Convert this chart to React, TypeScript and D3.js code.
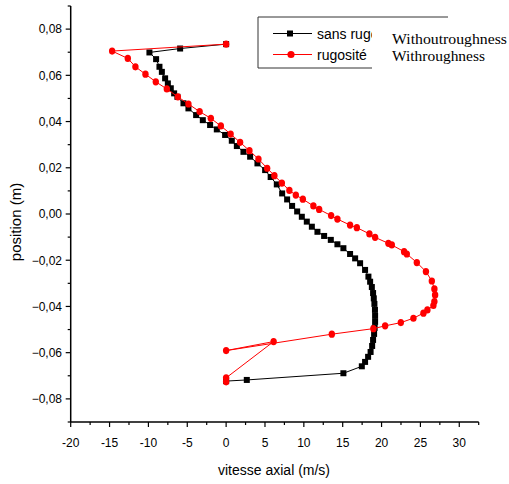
import React from "react";
import * as d3 from "d3";

const blackV = [0, 2.66, 15.09, 17.46, 17.88, 18.27, 18.59, 18.79, 18.91, 19.04, 19.11, 19.17, 19.17, 19.15, 19.08, 19.0, 18.91, 18.75, 18.53, 18.31, 17.88, 17.24, 16.6, 15.95, 15.09, 14.32, 13.47, 12.61, 11.75, 11.03, 10.38, 9.74, 9.14, 8.49, 7.85, 7.21, 6.52, 5.73, 5.02, 4.03, 3.09, 2.23, 1.38, 0.73, -0.13, -1.2, -2.06, -3.0, -3.86, -4.85, -5.49, -6.27, -6.69, -7.12, -7.5, -7.85, -8.27, -8.58, -9.01, -9.87, -5.92, 0];
const blackP = [-0.0723, -0.0718, -0.0689, -0.0659, -0.064, -0.0618, -0.0597, -0.0571, -0.0545, -0.0519, -0.0493, -0.0467, -0.0441, -0.0415, -0.0389, -0.0365, -0.0342, -0.0316, -0.0293, -0.0271, -0.0242, -0.0213, -0.0192, -0.0173, -0.0148, -0.0131, -0.0112, -0.0095, -0.0077, -0.0055, -0.0033, -0.0012, 0.0011, 0.0035, 0.0063, 0.0089, 0.0128, 0.016, 0.019, 0.0219, 0.0248, 0.0269, 0.0294, 0.0317, 0.0342, 0.0366, 0.0385, 0.0406, 0.0428, 0.0457, 0.0479, 0.0507, 0.0522, 0.0544, 0.0565, 0.0587, 0.0615, 0.0637, 0.067, 0.0699, 0.0716, 0.0735];

const redV = [0, 0, 6.11, 0, 13.6, 18.95, 20.46, 22.48, 24.1, 25.39, 25.9, 26.67, 26.8, 26.89, 26.8, 26.47, 25.71, 24.54, 23.25, 22.9, 21.32, 20.88, 19.17, 18.44, 16.82, 15.95, 14.32, 13.51, 11.97, 11.23, 9.87, 8.97, 8.14, 7.17, 6.21, 5.28, 4.16, 3.0, 1.8, 0.58, -0.68, -1.97, -3.41, -4.85, -6.21, -7.63, -9.05, -10.38, -11.67, -12.65, -14.67, 0];
const redP = [-0.0726, -0.0709, -0.0552, -0.0591, -0.052, -0.0496, -0.0484, -0.047, -0.0451, -0.0429, -0.0415, -0.0396, -0.0379, -0.035, -0.0324, -0.029, -0.0249, -0.021, -0.0173, -0.0163, -0.0134, -0.0127, -0.0101, -0.0086, -0.0059, -0.0048, -0.0022, -0.0007, 0.002, 0.0035, 0.0064, 0.0082, 0.0102, 0.0134, 0.0166, 0.0198, 0.0238, 0.0274, 0.031, 0.0346, 0.0381, 0.0414, 0.0443, 0.0476, 0.0507, 0.0541, 0.0572, 0.0605, 0.0637, 0.0673, 0.0705, 0.0735];

const xMajor = [-20, -15, -10, -5, 0, 5, 10, 15, 20, 25, 30];
const xMinor = [-17.5, -12.5, -7.5, -2.5, 2.5, 7.5, 12.5, 17.5, 22.5, 27.5, 32.5];
const yMajor = [-0.08, -0.06, -0.04, -0.02, 0, 0.02, 0.04, 0.06, 0.08];
const yMinor = [-0.09, -0.07, -0.05, -0.03, -0.01, 0.01, 0.03, 0.05, 0.07, 0.09];

const legendLabels = ["sans rugosité", "rugosité"];
const noteLabels = ["Withoutroughness", "Withroughness"];
const xTitle = "vitesse axial (m/s)";
const yTitle = "position (m)";

export default function App() {
  const x = d3.scaleLinear().domain([-20, 32.5]).range([70.7, 478.7]);
  const y = d3.scaleLinear().domain([-0.09, 0.09]).range([422, 6]);
  const black = blackV.map((v, i) => [v, blackP[i]] as [number, number]);
  const red = redV.map((v, i) => [v, redP[i]] as [number, number]);
  const line = d3.line<[number, number]>().x((d) => x(d[0])).y((d) => y(d[1]));
  const fmtY = (v: number) => (Math.abs(v) < 1e-9 ? "0,00" : d3.format(".2f")(v).replace(".", ","));
  const sans = "'Liberation Sans', Arial, sans-serif";
  const x0 = x(-20);
  const y0 = y(-0.09);

  return (
    <svg width={509} height={484} style={{ position: "absolute", left: 0, top: 0, background: "#fff" }}>
      <defs>
        <clipPath id="legclip">
          <rect x={250} y={10} width={122} height={70} />
        </clipPath>
        <clipPath id="noteclip">
          <rect x={372} y={19} width={137} height={45} />
        </clipPath>
      </defs>
      {/* series */}
      <path d={line(black) || ""} fill="none" stroke="#000" strokeWidth={1} />
      {black.map((d, i) => (
        <rect key={"b" + i} x={x(d[0]) - 3} y={y(d[1]) - 3} width={6} height={6} fill="#000" />
      ))}
      <path d={line(red) || ""} fill="none" stroke="#ff0000" strokeWidth={1} />
      {red.map((d, i) => (
        <ellipse key={"r" + i} cx={x(d[0])} cy={y(d[1])} rx={3.2} ry={3.6} fill="#ff0000" />
      ))}
      {/* axes */}
      <line x1={x0} y1={y0} x2={x(32.5)} y2={y0} stroke="#000" strokeWidth={1.5} />
      <line x1={x0} y1={y0} x2={x0} y2={y(0.09)} stroke="#000" strokeWidth={1.5} />
      {xMajor.map((v) => (
        <g key={"xm" + v}>
          <line x1={x(v)} x2={x(v)} y1={y0} y2={y0 + 5} stroke="#000" strokeWidth={1.2} />
          <text x={x(v)} y={447} textAnchor="middle" fontSize={12} fontFamily={sans}>{String(v)}</text>
        </g>
      ))}
      {xMinor.map((v) => (
        <line key={"xn" + v} x1={x(v)} x2={x(v)} y1={y0} y2={y0 + 3} stroke="#000" strokeWidth={1.2} />
      ))}
      {yMajor.map((v) => (
        <g key={"ym" + v}>
          <line x1={x0} x2={x0 - 5} y1={y(v)} y2={y(v)} stroke="#000" strokeWidth={1.2} />
          <text x={62} y={y(v) + 4.3} textAnchor="end" fontSize={12} fontFamily={sans}>{fmtY(v)}</text>
        </g>
      ))}
      {yMinor.map((v) => (
        <line key={"yn" + v} x1={x0} x2={x0 - 3} y1={y(v)} y2={y(v)} stroke="#000" strokeWidth={1.2} />
      ))}
      <text x={274} y={475} textAnchor="middle" fontSize={14} fontFamily={sans}>{xTitle}</text>
      <text transform={`translate(21,222) rotate(-90)`} textAnchor="middle" fontSize={15} fontFamily={sans}>{yTitle}</text>
      {/* legend */}
      <line x1={258} y1={17} x2={448} y2={17} stroke="#333" strokeWidth={1} />
      <line x1={258} y1={17} x2={258} y2={68} stroke="#333" strokeWidth={1} />
      <line x1={258} y1={68} x2={372} y2={68} stroke="#333" strokeWidth={1} />
      <g clipPath="url(#legclip)">
        <line x1={273} x2={312} y1={33.5} y2={33.5} stroke="#000" strokeWidth={1} />
        <rect x={287} y={30.5} width={6} height={6} fill="#000" />
        <line x1={273} x2={312} y1={54.5} y2={54.5} stroke="#ff0000" strokeWidth={1} />
        <circle cx={291} cy={54.5} r={3.6} fill="#ff0000" />
        <text x={317} y={38.5} fontSize={14} fontFamily={sans}>{legendLabels[0]}</text>
        <text x={317} y={59.5} fontSize={14} fontFamily={sans}>{legendLabels[1]}</text>
      </g>
      <rect x={372} y={19} width={137} height={52} fill="#fff" />
      <g clipPath="url(#noteclip)">
        <text x={392} y={43.5} fontSize={14} fontFamily="'Liberation Serif', 'Times New Roman', serif" textLength={115} lengthAdjust="spacingAndGlyphs">{noteLabels[0]}</text>
        <text x={392} y={60.5} fontSize={14} fontFamily="'Liberation Serif', 'Times New Roman', serif" textLength={93} lengthAdjust="spacingAndGlyphs">{noteLabels[1]}</text>
      </g>
    </svg>
  );
}
